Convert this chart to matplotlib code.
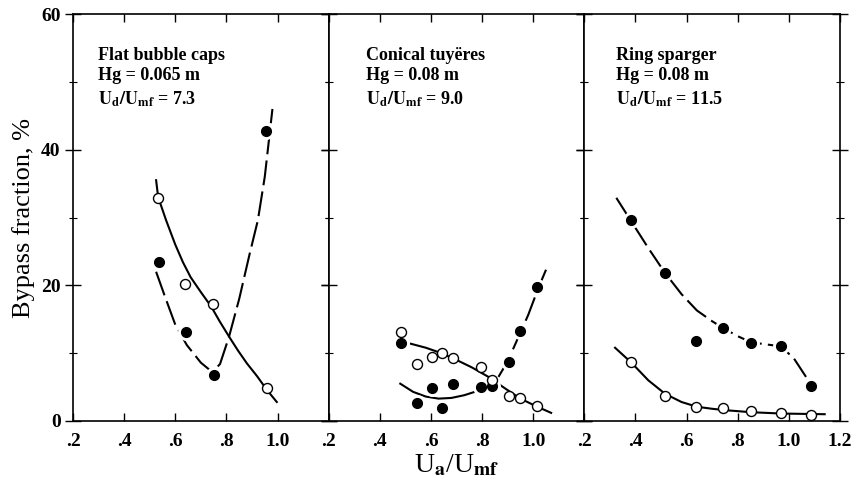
import matplotlib
matplotlib.use('Agg')
import matplotlib.pyplot as plt

plt.rcParams['font.family'] = ['Liberation Serif', 'DejaVu Serif']
plt.rcParams['mathtext.fontset'] = 'stix'

#%% data: (Ua/Umf, bypass %)
# Flat bubble caps
caps_fill_x = [0.537, 0.641, 0.753, 0.956]
caps_fill_y = [23.4, 13.1, 6.8, 42.8]
caps_open_x = [0.533, 0.637, 0.749, 0.958]
caps_open_y = [32.9, 20.2, 17.3, 4.9]
caps_fill_cx = [0.525, 0.56, 0.60, 0.645, 0.70, 0.745, 0.775, 0.81, 0.85, 0.89, 0.923, 0.95, 0.965, 0.98]
caps_fill_cy = [22.0, 18.3, 14.2, 11.2, 8.6, 7.2, 8.4, 12.4, 18.0, 24.5, 29.6, 36.0, 41.0, 46.0]
caps_open_cx = [0.525, 0.533, 0.564, 0.60, 0.63, 0.66, 0.70, 0.74, 0.775, 0.811, 0.845, 0.88, 0.92, 0.958, 0.997]
caps_open_cy = [35.5, 33.0, 29.6, 26.0, 23.4, 21.2, 19.0, 16.9, 14.6, 12.4, 10.4, 8.5, 6.6, 4.6, 2.8]

# Conical tuyeres
tuy_fill_x = [0.482, 0.544, 0.606, 0.645, 0.688, 0.795, 0.838, 0.904, 0.950, 1.016]
tuy_fill_y = [11.5, 2.7, 4.9, 1.9, 5.5, 5.0, 5.2, 8.7, 13.3, 19.8]
tuy_open_x = [0.482, 0.544, 0.606, 0.645, 0.688, 0.795, 0.838, 0.904, 0.950, 1.016]
tuy_open_y = [13.1, 8.4, 9.4, 10.0, 9.3, 8.0, 6.0, 3.7, 3.4, 2.2]
tuy_fill_cx_a = [0.48, 0.53, 0.58, 0.63, 0.68, 0.73, 0.78]
tuy_fill_cy_a = [5.5, 4.3, 3.6, 3.3, 3.4, 3.8, 4.4]
tuy_fill_cx_b = [0.864, 0.90, 0.94, 0.98, 1.02, 1.05]
tuy_fill_cy_b = [6.5, 8.8, 12.2, 15.6, 19.6, 22.3]
tuy_open_cx = [0.52, 0.58, 0.641, 0.70, 0.76, 0.825, 0.89, 0.95, 1.01, 1.07]
tuy_open_cy = [11.4, 10.8, 10.0, 9.0, 7.9, 6.5, 4.8, 3.3, 2.2, 1.2]

# Ring sparger
ring_fill_x = [0.384, 0.516, 0.637, 0.743, 0.852, 0.969, 1.087]
ring_fill_y = [29.6, 21.8, 11.8, 13.7, 11.5, 11.1, 5.2]
ring_open_x = [0.384, 0.516, 0.637, 0.743, 0.852, 0.969, 1.087]
ring_open_y = [8.7, 3.7, 2.1, 1.9, 1.5, 1.2, 0.9]
ring_fill_cx = [0.325, 0.384, 0.45, 0.516, 0.58, 0.64, 0.70, 0.743, 0.80, 0.852, 0.91, 0.969, 1.02, 1.067]
ring_fill_cy = [32.9, 29.4, 25.5, 21.8, 18.7, 16.3, 14.7, 13.7, 12.5, 11.6, 11.3, 11.0, 9.2, 6.5]
ring_open_cx = [0.32, 0.384, 0.45, 0.516, 0.58, 0.64, 0.70, 0.75, 0.85, 0.97, 1.14]
ring_open_cy = [10.8, 8.6, 6.0, 4.0, 2.8, 2.1, 1.8, 1.6, 1.3, 1.1, 1.0]

labels = ['Flat bubble caps\nHg = 0.065 m\n$\\mathbf{U_d/U_{mf}}$ = 7.3',
          'Conical tuyëres\nHg = 0.08 m\n$\\mathbf{U_d/U_{mf}}$ = 9.0',
          'Ring sparger\nHg = 0.08 m\n$\\mathbf{U_d/U_{mf}}$ = 11.5']
label_x = [0.297, 0.345, 0.325]

#%%
fig = plt.figure(figsize=(8.55, 4.88), dpi=100)
axs = fig.subplots(1, 3, sharey=True)
fig.subplots_adjust(left=0.0854, right=0.9825, bottom=0.1373, top=0.9713, wspace=0)

dash = (0, (12, 3))
lw = 1.5
ms = 7.2

def filled(ax, x, y):
    # white halo so the dashed curve breaks round the dots
    ax.plot(x, y, 'o', ms=ms + 5, mfc='white', mec='none', zorder=4)
    ax.plot(x, y, 'o', ms=ms, mfc='black', mec='black', mew=0.8, zorder=5)

def opened(ax, x, y):
    ax.plot(x, y, 'o', ms=ms, mfc='white', mec='black', mew=1.0, zorder=6)

# panel 1
ax = axs[0]
ax.plot(caps_open_cx, caps_open_cy, '-', color='black', lw=lw)
ax.plot(caps_fill_cx, caps_fill_cy, color='black', lw=lw, linestyle=dash)
filled(ax, caps_fill_x, caps_fill_y)
opened(ax, caps_open_x, caps_open_y)

# panel 2
ax = axs[1]
ax.plot(tuy_open_cx, tuy_open_cy, '-', color='black', lw=lw)
ax.plot(tuy_fill_cx_a, tuy_fill_cy_a, '-', color='black', lw=lw)
ax.plot(tuy_fill_cx_b, tuy_fill_cy_b, color='black', lw=lw, linestyle=dash)
filled(ax, tuy_fill_x, tuy_fill_y)
opened(ax, tuy_open_x, tuy_open_y)

# panel 3
ax = axs[2]
ax.plot(ring_open_cx, ring_open_cy, '-', color='black', lw=lw)
ax.plot(ring_fill_cx, ring_fill_cy, color='black', lw=lw, linestyle=dash)
filled(ax, ring_fill_x, ring_fill_y)
opened(ax, ring_open_x, ring_open_y)

for i, ax in enumerate(axs):
    ax.set_xlim(0.2, 1.2)
    ax.set_ylim(0, 60)
    if i < 2:
        ax.set_xticks([0.2, 0.4, 0.6, 0.8, 1.0])
        ax.set_xticklabels(['.2', '.4', '.6', '.8', '1.0'])
    else:
        ax.set_xticks([0.2, 0.4, 0.6, 0.8, 1.0, 1.2])
        ax.set_xticklabels(['.2', '.4', '.6', '.8', '1.0', '1.2'])
    ax.set_yticks([0, 20, 40, 60])
    ax.set_yticks([10, 30, 50], minor=True)
    ax.tick_params(axis='x', direction='in', top=True, bottom=True, length=6, width=1.0,
                   labelsize=14, pad=9)
    ax.tick_params(axis='y', which='major', direction='inout', left=True, right=True,
                   length=11, width=1.0, labelsize=14)
    ax.tick_params(axis='y', which='minor', direction='inout', left=True, right=True,
                   length=6, width=0.8)
    for lab in ax.get_xticklabels() + ax.get_yticklabels():
        lab.set_fontweight('bold')
    for s in ax.spines.values():
        s.set_linewidth(1.2)
    ax.text(label_x[i], 55.2, labels[i], fontsize=13, fontweight='bold',
            va='top', ha='left', linespacing=1.3)

axs[0].set_ylabel('Bypass fraction, %', fontsize=19, labelpad=4)
axs[1].set_xlabel('U$_\\mathbf{a}$/U$_\\mathbf{mf}$', fontsize=20, labelpad=2)

fig.savefig('out.png', dpi=100)
